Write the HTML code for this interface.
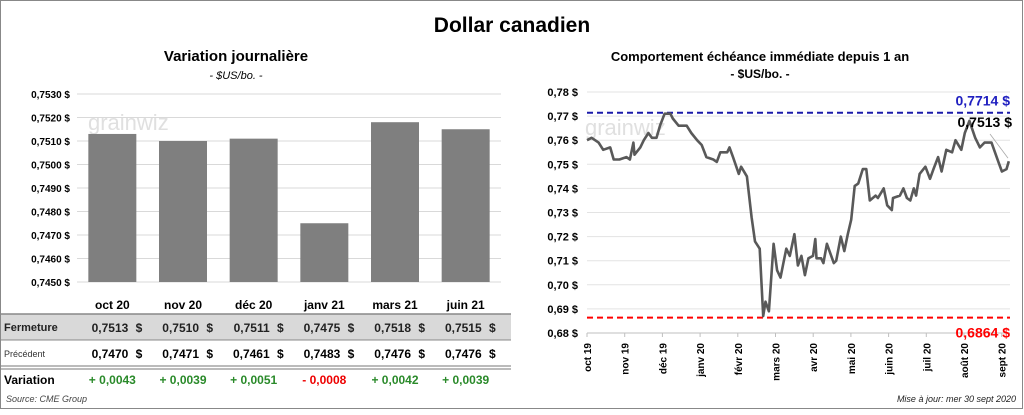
<!DOCTYPE html>
<html><head><meta charset="utf-8"><style>
body{margin:0;width:1024px;height:410px;overflow:hidden;background:#fff;font-family:"Liberation Sans",sans-serif}
svg text{font-family:"Liberation Sans",sans-serif}
</style></head><body>
<svg width="1024" height="410">
<rect x="0.5" y="0.5" width="1022" height="408" fill="#fff" stroke="#888"/>
<text x="512" y="32" font-size="21" font-weight="bold" text-anchor="middle">Dollar canadien</text>
<text x="236" y="61" font-size="15" font-weight="bold" text-anchor="middle">Variation  journalière</text>
<text x="236" y="79" font-size="11" font-style="italic" text-anchor="middle">- $US/bo. -</text>
<text x="760" y="61" font-size="13" font-weight="bold" text-anchor="middle">Comportement échéance immédiate depuis 1 an</text>
<text x="760" y="78" font-size="12" font-weight="bold" text-anchor="middle">- $US/bo. -</text>
<g id="left"></g>
<g id="right"></g>
<g id="table"></g>
<text x="6" y="402" font-size="9" font-style="italic" fill="#444">Source: CME Group</text>
<text x="1016" y="402" font-size="9" font-style="italic" fill="#222" text-anchor="end">Mise à jour: mer 30 sept 2020</text>
</svg>
<script>
const NS="http://www.w3.org/2000/svg";
const barCats=["oct 20","nov 20","déc 20","janv 21","mars 21","juin 21"];
const barClose=[0.7513,0.7510,0.7511,0.7475,0.7518,0.7515];
const barPrev=[0.7470,0.7471,0.7461,0.7483,0.7476,0.7476];
const barVar=[0.0043,0.0039,0.0051,-0.0008,0.0042,0.0039];
const barTicks=[0.7450,0.7460,0.7470,0.7480,0.7490,0.7500,0.7510,0.7520,0.7530];
const lineDays=[0,4,10,14,20,23,28,34,37,40,41,46,49,53,56,60,63,67,72,74,79,86,90,95,99,103,109,112,115,121,123,126,131,133,138,142,145,149,152,154,157,161,164,167,169,172,175,179,182,185,188,191,195,197,198,202,204,207,213,215,219,222,225,228,231,234,238,241,244,249,251,256,259,263,264,270,273,276,279,282,284,287,292,296,299,303,306,310,315,318,323,326,330,335,339,343,349,355,358,362,364];
const lineVals=[0.760,0.761,0.759,0.756,0.757,0.752,0.752,0.753,0.752,0.759,0.754,0.757,0.760,0.763,0.761,0.761,0.766,0.771,0.771,0.769,0.766,0.766,0.763,0.760,0.758,0.753,0.752,0.751,0.755,0.755,0.757,0.753,0.746,0.749,0.745,0.728,0.718,0.715,0.687,0.693,0.689,0.717,0.706,0.703,0.708,0.715,0.712,0.721,0.708,0.712,0.704,0.711,0.712,0.719,0.711,0.711,0.709,0.717,0.709,0.710,0.720,0.714,0.721,0.727,0.741,0.742,0.748,0.748,0.735,0.737,0.736,0.740,0.733,0.731,0.736,0.737,0.740,0.736,0.735,0.740,0.737,0.746,0.749,0.744,0.748,0.753,0.747,0.756,0.755,0.760,0.756,0.763,0.768,0.761,0.757,0.759,0.759,0.751,0.747,0.748,0.7513];
const lineTicks=[0.68,0.69,0.70,0.71,0.72,0.73,0.74,0.75,0.76,0.77,0.78];
const monthLabels=["oct 19","nov 19","déc 19","janv 20","févr 20","mars 20","avr 20","mai 20","juin 20","juil 20","août 20","sept 20"];
const highVal=0.7714, lowVal=0.6864, lastVal=0.7513;

function mk(p,t,a,txt){const e=document.createElementNS(NS,t);for(const k in a)e.setAttribute(k,a[k]);if(txt!==undefined)e.textContent=txt;p.appendChild(e);return e;}
const fr=v=>v.toFixed(4).replace('.',',');

const L=document.getElementById('left');
const lx0=77,lx1=501,ly0=282,ly1=94;
const bY=v=>ly0-(v-0.7450)/(0.7530-0.7450)*(ly0-ly1);
const bw=(lx1-lx0)/barCats.length;
const bX=i=>lx0+bw*(i+0.5);
barTicks.forEach(t=>{
  let g=mk(L,'line',{x1:lx0,x2:lx1,y1:bY(t),y2:bY(t),stroke:'#d9d9d9'});
  
  let tx=mk(L,'text',{x:70,y:bY(t)+4,'font-size':10,'font-weight':'bold','text-anchor':'end'},fr(t)+' $');
  
});
mk(L,'text',{x:88,y:130,'font-size':22,fill:'#e0e0e0'},'grainwiz');
barClose.forEach((v,i)=>{
  let r=mk(L,'rect',{x:bX(i)-24,y:bY(v),width:48,height:ly0-bY(v),fill:'#7f7f7f'});
  
});

const T=document.getElementById('table');
mk(T,'rect',{x:1,y:314,width:510,height:26,fill:'#d9d9d9'});
mk(T,'line',{x1:1,x2:511,y1:314,y2:314,stroke:'#888',"stroke-width":1.5});
mk(T,'line',{x1:1,x2:511,y1:340,y2:340,stroke:'#888'});
mk(T,'line',{x1:1,x2:511,y1:366,y2:366,stroke:'#777'});
mk(T,'line',{x1:1,x2:511,y1:369,y2:369,stroke:'#777'});
mk(T,'text',{x:4,y:331,'font-size':11,'font-weight':'bold',fill:'#222'},'Fermeture');
mk(T,'text',{x:4,y:357,'font-size':9,fill:'#333'},'Précédent');
mk(T,'text',{x:4,y:384,'font-size':12,'font-weight':'bold'},'Variation');
barCats.forEach((c,i)=>{
  const cx=bX(i);
  let h=mk(T,'text',{x:cx,y:309,'font-size':12,'font-weight':'bold','text-anchor':'middle'},c);
  
  mk(T,'text',{x:cx+16,y:332,'font-size':12,'font-weight':'bold','text-anchor':'end',fill:'#222'},fr(barClose[i]));
  mk(T,'text',{x:cx+30,y:332,'font-size':12,'font-weight':'bold','text-anchor':'end',fill:'#222'},'$');
  mk(T,'text',{x:cx+16,y:358,'font-size':12,'font-weight':'bold','text-anchor':'end'},fr(barPrev[i]));
  mk(T,'text',{x:cx+30,y:358,'font-size':12,'font-weight':'bold','text-anchor':'end'},'$');
  const d=barVar[i];
  mk(T,'text',{x:cx,y:384,'font-size':12,'font-weight':'bold','text-anchor':'middle',fill:d>=0?'#2a8a2a':'#e00'},(d>=0?'+ ':'- ')+fr(Math.abs(d)));
});

const R=document.getElementById('right');
const rx0=587,rx1=1010,ry0=333,ry1=92;
const lY=v=>ry0-(v-0.68)/(0.78-0.68)*(ry0-ry1);
const lX=d=>rx0+d/365*(rx1-rx0);
lineTicks.forEach(t=>{
  let g=mk(R,'line',{x1:rx0,x2:rx1,y1:lY(t),y2:lY(t),stroke:t===0.68?'#bfbfbf':'#e3e3e3'});
  
  let tx=mk(R,'text',{x:578,y:lY(t)+4,'font-size':11,'font-weight':'bold','text-anchor':'end'},t.toFixed(2).replace('.',',')+' $');
  
});
monthLabels.forEach((m,i)=>{
  const x=rx0+i*37.7;
  mk(R,'line',{x1:x,x2:x,y1:ry0,y2:ry0+4,stroke:'#bfbfbf'});
  let tx=mk(R,'text',{transform:`translate(${x+4},343) rotate(-90)`,'font-size':10,'font-weight':'bold','text-anchor':'end'},m);
  
});
mk(R,'text',{x:585,y:135,'font-size':22,fill:'#e0e0e0'},'grainwiz');
let hl=mk(R,'line',{x1:rx0,x2:rx1,y1:lY(highVal),y2:lY(highVal),stroke:'#1a1aaa','stroke-width':2,'stroke-dasharray':'6,4'});

let ll=mk(R,'line',{x1:rx0,x2:rx1,y1:lY(lowVal),y2:lY(lowVal),stroke:'#f00','stroke-width':2,'stroke-dasharray':'6,4'});

let pts=lineDays.map((d,i)=>lX(d).toFixed(1)+','+lY(lineVals[i]).toFixed(1)).join(' ');
let pl=mk(R,'polyline',{points:pts,fill:'none',stroke:'#595959','stroke-width':2.6,'stroke-linejoin':'round'});

mk(R,'line',{x1:990,y1:134,x2:1008,y2:lY(lastVal)-3,stroke:'#aaa','stroke-width':0.8});
let a=mk(R,'text',{x:1010,y:lY(highVal)-7,'font-size':14,'font-weight':'bold','text-anchor':'end',fill:'#2020c0'},'0,7714 $');

let b=mk(R,'text',{x:1012,y:127,'font-size':14,'font-weight':'bold','text-anchor':'end'},'0,7513 $');

let c=mk(R,'text',{x:1010,y:lY(lowVal)+20,'font-size':14,'font-weight':'bold','text-anchor':'end',fill:'#f00'},'0,6864 $');

</script>
</body></html>
